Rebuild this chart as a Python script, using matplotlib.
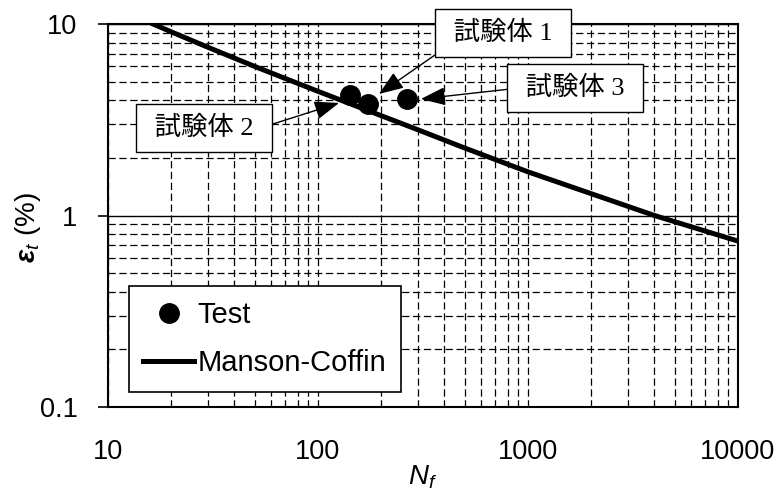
import numpy as np
import matplotlib.pyplot as plt
from matplotlib.ticker import LogLocator, NullFormatter, FuncFormatter

plt.rcParams['font.family'] = ['Liberation Sans', 'DejaVu Sans']
plt.rcParams['mathtext.fontset'] = 'custom'
plt.rcParams['mathtext.rm'] = 'Liberation Sans'
plt.rcParams['mathtext.it'] = 'Liberation Sans:italic'
plt.rcParams['mathtext.bf'] = 'Liberation Sans:bold:italic'

# test results (cycles to failure, total strain %)
N_test = [142, 173, 265]
eps_test = [4.25, 3.8, 4.06]

# Manson-Coffin curve read at a few points
N_mc = [16.4, 20, 30, 50, 100, 200, 300, 500, 1000, 2000, 4000, 10000]
eps_mc = [10.0, 9.1, 7.55, 6.0, 4.45, 3.32, 2.8, 2.25, 1.69, 1.3, 1.0, 0.735]

# specimen labels: text position, arrow tip, arrow start on the box
labels = [' 試験体 1 ', ' 試験体 2 ', ' 試験体 3 ']
label_xy = [(760, 8.97), (28.6, 2.86), (1675, 4.63)]
arrow_tip = [(195, 4.31), (126, 3.87), (309, 4.06)]
arrow_rel = [(0.02, 0.0), (1.0, 0.5), (0.0, 0.5)]

dash = (0, (5.8, 2.9))

fig = plt.figure(figsize=(7.82, 4.92), dpi=100)
ax = fig.add_axes([108/782, 85/492, 630/782, 383/492])

ax.set_xscale('log')
ax.set_yscale('log')
ax.set_xlim(10, 10000)
ax.set_ylim(0.1, 10)

ax.plot(N_test, eps_test, 'o', color='k', ms=14, ls='none', label='Test', zorder=4)
ax.plot(N_mc, eps_mc, '-', color='k', lw=3.6, label='Manson-Coffin', zorder=3)

# grid: dashed minors, dashed vertical majors, solid horizontal majors
ax.xaxis.set_minor_locator(LogLocator(base=10, subs=np.arange(2, 10)))
ax.yaxis.set_minor_locator(LogLocator(base=10, subs=np.arange(2, 10)))
ax.xaxis.set_minor_formatter(NullFormatter())
ax.yaxis.set_minor_formatter(NullFormatter())
ax.grid(which='minor', color='k', ls=dash, lw=0.9)
ax.xaxis.grid(which='major', color='k', ls=dash, lw=0.9)
ax.yaxis.grid(which='major', color='k', ls='-', lw=1.0)
ax.set_axisbelow(True)

fmt = FuncFormatter(lambda v, p: '%g' % v)
ax.xaxis.set_major_formatter(fmt)
ax.yaxis.set_major_formatter(fmt)
ax.tick_params(axis='x', which='major', length=0, pad=23, labelsize=19.5)
ax.tick_params(axis='y', which='major', length=7, width=1.2, direction='out', pad=15, labelsize=19.5)
ax.tick_params(which='minor', length=0)
for s in ax.spines.values():
    s.set_linewidth(1.5)
    s.set_zorder(5)

fig.text(28/782, 1 - 228/492, r'$\mathbf{\varepsilon}_{t}$ (%)', rotation=90,
         ha='center', va='center', fontsize=20)
fig.text(423/782, 1 - 477/492, r'$N_f$', ha='center', va='center', fontsize=20)

for txt, xy, tip, rel in zip(labels, label_xy, arrow_tip, arrow_rel):
    ax.annotate(txt, xy=tip, xytext=xy, ha='center', va='center',
                fontsize=19, family=['Liberation Serif', 'Noto Sans CJK JP'],
                bbox=dict(boxstyle='square,pad=0.45', fc='white', ec='k', lw=1.0),
                arrowprops=dict(arrowstyle='-|>,head_length=0.8,head_width=0.3',
                                color='k', lw=1.0, relpos=rel, shrinkA=0, shrinkB=0),
                annotation_clip=False, zorder=6)

leg = ax.legend(loc='lower left', bbox_to_anchor=(0.033, 0.039), borderaxespad=0,
                fontsize=21, handlelength=1.75, handletextpad=0.1, borderpad=0.5,
                labelspacing=0.7, fancybox=False, framealpha=1, edgecolor='k')
leg.get_frame().set_linewidth(1.2)
leg.set_zorder(6)

fig.savefig('out.png', dpi=100)
